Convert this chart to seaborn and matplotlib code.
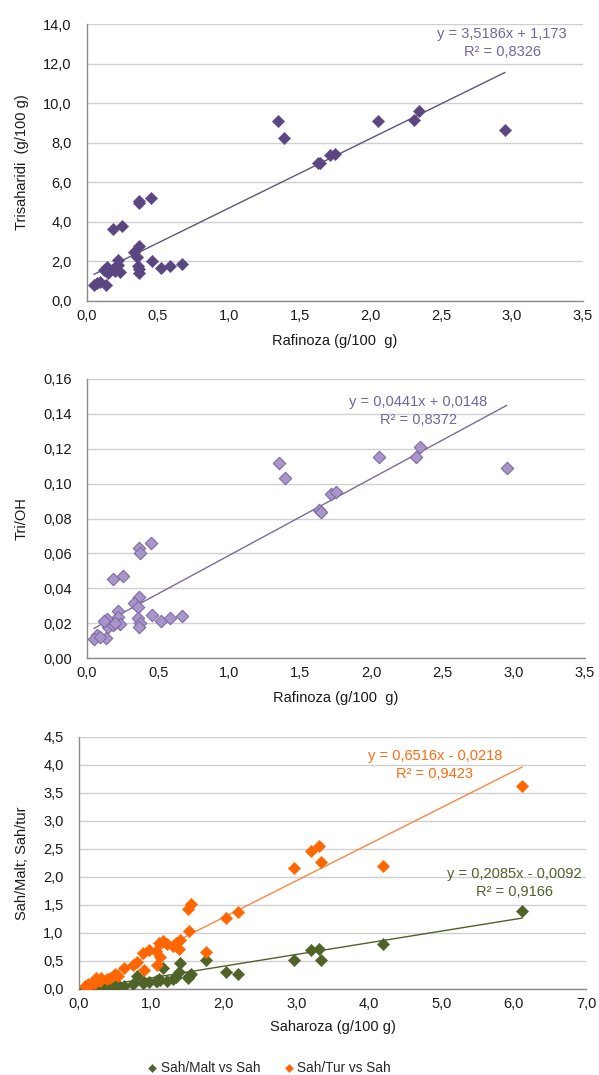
import matplotlib
matplotlib.use("Agg")
import matplotlib.pyplot as plt
import seaborn as sns
import pandas as pd
from matplotlib.ticker import FuncFormatter, MultipleLocator

# Raffinose vs. trisaccharides and Tri/OH ratio
rafinoza = [1.35, 1.39, 2.05, 2.31, 2.34, 2.95, 1.63, 1.645, 1.715, 1.75,
            0.45, 0.365, 0.37, 0.185, 0.25, 0.365, 0.33, 0.355, 0.456, 0.52,
            0.585, 0.668, 0.36, 0.37, 0.365, 0.22, 0.216, 0.233, 0.14, 0.15,
            0.186, 0.068, 0.134, 0.049, 0.092, 0.12, 0.20]
trisaharidi = [9.10, 8.22, 9.10, 9.15, 9.60, 8.65, 6.95, 7.00, 7.37, 7.42,
               5.22, 4.96, 5.05, 3.65, 3.79, 2.79, 2.49, 2.24, 2.02, 1.65,
               1.75, 1.87, 1.75, 1.60, 1.43, 2.07, 1.82, 1.48, 1.70, 1.40,
               1.60, 0.92, 0.81, 0.81, 0.98, 1.55, 1.50]
tri_oh = [0.112, 0.103, 0.115, 0.1155, 0.121, 0.109, 0.085, 0.084, 0.094, 0.095,
          0.066, 0.063, 0.060, 0.0455, 0.047, 0.035, 0.0316, 0.029, 0.0245, 0.021,
          0.023, 0.024, 0.023, 0.0198, 0.0178, 0.027, 0.0236, 0.0194, 0.0226, 0.0178,
          0.0188, 0.013, 0.0115, 0.011, 0.012, 0.021, 0.020]

# Sucrose vs. sucrose/maltose and sucrose/turanose ratios
saharoza = [6.12, 4.20, 3.34, 3.31, 3.21, 2.97, 2.20, 2.03, 1.75, 1.55,
            1.50, 1.52, 1.40, 1.38, 1.30, 1.16, 1.10, 1.07, 1.12, 1.08,
            0.96, 0.89, 0.90, 0.80, 0.75, 0.62, 0.50, 0.54, 0.43, 0.38,
            0.31, 0.29, 0.24, 0.22, 0.15, 0.12, 0.08, 1.22, 1.34]
sah_malt = [1.39, 0.80, 0.52, 0.71, 0.69, 0.52, 0.27, 0.30, 0.52, 0.26,
            0.20, 0.24, 0.46, 0.31, 0.17, 0.37, 0.17, 0.14, 0.16, 0.15,
            0.12, 0.11, 0.12, 0.24, 0.09, 0.06, 0.05, 0.07, 0.05, 0.03,
            0.03, 0.02, 0.02, 0.02, 0.01, 0.01, 0.00, 0.15, 0.22]
sah_tur = [3.62, 2.20, 2.26, 2.56, 2.46, 2.16, 1.37, 1.27, 0.66, 1.51,
           1.43, 1.03, 0.88, 0.71, 0.77, 0.85, 0.83, 0.68, 0.58, 0.42,
           0.70, 0.64, 0.34, 0.49, 0.43, 0.37, 0.26, 0.23, 0.20, 0.17,
           0.20, 0.14, 0.20, 0.11, 0.08, 0.09, 0.05, 0.80, 0.82]

# Linear trend coefficients (slope, intercept) and R²
fit_tri = (3.5186, 1.173, 0.8326)
fit_oh = (0.0441, 0.0148, 0.8372)
fit_malt = (0.2085, -0.0092, 0.9166)
fit_tur = (0.6516, -0.0218, 0.9423)

sns.set_theme(style="white")
plt.rcParams['font.family'] = ['Liberation Sans', 'DejaVu Sans']
plt.rcParams['font.size'] = 10.5

W, H = 599, 1075
fig = plt.figure(figsize=(W / 100, H / 100), dpi=100)


def fmt(dec):
    return FuncFormatter(lambda v, p: f"{v:.{dec}f}".replace(".", ","))


def style_axes(ax, xmax, xstep, ymax, ystep, xdec, ydec):
    ax.set_xlim(0, xmax)
    ax.set_ylim(0, ymax)
    ax.xaxis.set_major_locator(MultipleLocator(xstep))
    ax.yaxis.set_major_locator(MultipleLocator(ystep))
    ax.xaxis.set_major_formatter(fmt(xdec))
    ax.yaxis.set_major_formatter(fmt(ydec))
    ax.grid(axis="y", color="#d0d0d0", linewidth=1.0)
    ax.grid(axis="x", visible=False)
    ax.set_axisbelow(True)
    for s in ["top", "right"]:
        ax.spines[s].set_visible(False)
    for s in ["left", "bottom"]:
        ax.spines[s].set_color("#8c8c8c")
        ax.spines[s].set_linewidth(1.0)
    ax.tick_params(axis="y", length=0, pad=11, labelsize=10.5, labelcolor="#1a1a1a")
    ax.tick_params(axis="x", length=0, pad=6, labelsize=10.5, labelcolor="#1a1a1a")


def trend(ax, xs, fit, color):
    x0, x1 = min(xs), max(xs)
    d = pd.DataFrame({"x": [x0, x1], "y": [fit[0] * x0 + fit[1], fit[0] * x1 + fit[1]]})
    sns.lineplot(data=d, x="x", y="y", ax=ax, color=color, linewidth=1.0)


def eq_text(ax, fit, xy, color, dec_int):
    sign = "+" if fit[1] >= 0 else "-"
    s = f"y = {fit[0]:.4f}x {sign} {abs(fit[1]):.{dec_int}f}".replace(".", ",")
    r = f"R² = {fit[2]:.4f}".replace(".", ",")
    fig.text(xy[0] / W, 1 - xy[1] / H, s, ha="center", va="center", color=color, fontsize=10.5)
    fig.text(xy[0] / W, 1 - (xy[1] + 18.5) / H, r, ha="center", va="center", color=color, fontsize=10.5)


MS = 40

# Panel 1
ax1 = fig.add_axes([87 / W, 1 - 301 / H, 496 / W, 277 / H])
d1 = pd.DataFrame({"x": rafinoza, "y": trisaharidi})
sns.scatterplot(data=d1, x="x", y="y", ax=ax1, marker="D", s=MS, color="#5a4680",
                edgecolor="#5a4680", linewidth=0.3, zorder=3)
trend(ax1, rafinoza, fit_tri, "#5f5478")
style_axes(ax1, 3.5, 0.5, 14, 2, 1, 1)
ax1.set_xlabel("Rafinoza (g/100  g)", fontsize=10.5, labelpad=8, color="#1a1a1a")
ax1.set_ylabel("Trisaharidi  (g/100 g)", fontsize=10.5, labelpad=10, color="#1a1a1a")
eq_text(ax1, fit_tri, (502, 34), "#7264a0", 3)

# Panel 2
ax2 = fig.add_axes([87 / W, 1 - 658 / H, 498 / W, 279 / H])
d2 = pd.DataFrame({"x": rafinoza, "y": tri_oh})
sns.scatterplot(data=d2, x="x", y="y", ax=ax2, marker="D", s=MS, color="#a896cb",
                edgecolor="#7f6ba6", linewidth=0.8, zorder=3)
trend(ax2, rafinoza, fit_oh, "#7a6b98")
style_axes(ax2, 3.5, 0.5, 0.16, 0.02, 1, 2)
ax2.set_xlabel("Rafinoza (g/100  g)", fontsize=10.5, labelpad=8, color="#1a1a1a")
ax2.set_ylabel("Tri/OH", fontsize=10.5, labelpad=10, color="#1a1a1a")
eq_text(ax2, fit_oh, (418, 402), "#7264a0", 4)

# Panel 3
ax3 = fig.add_axes([79 / W, 1 - 989 / H, 507 / W, 252 / H])
d3 = pd.DataFrame({"x": saharoza, "malt": sah_malt, "tur": sah_tur})
sns.scatterplot(data=d3, x="x", y="malt", ax=ax3, marker="D", s=MS, color="#4f6228",
                edgecolor="#4f6228", linewidth=0.3, zorder=3, label="Sah/Malt vs Sah")
sns.scatterplot(data=d3, x="x", y="tur", ax=ax3, marker="D", s=MS, color="#ff6600",
                edgecolor="#ff6600", linewidth=0.3, zorder=4, label="Sah/Tur vs Sah")
trend(ax3, saharoza, fit_tur, "#ff8540")
trend(ax3, saharoza, fit_malt, "#4f6228")
style_axes(ax3, 7.0, 1.0, 4.5, 0.5, 1, 1)
ax3.set_xlabel("Saharoza (g/100 g)", fontsize=10.5, labelpad=6, color="#1a1a1a")
ax3.set_ylabel("Sah/Malt; Sah/tur", fontsize=10.5, labelpad=10, color="#1a1a1a")
eq_text(ax3, fit_tur, (435, 756), "#ff6a10", 4)
eq_text(ax3, fit_malt, (514, 874), "#4f6228", 4)

handles, labels = ax3.get_legend_handles_labels()
ax3.get_legend().remove()
fig.legend(handles[:2], labels[:2], loc="center", bbox_to_anchor=(268 / W, 1 - 1068 / H),
           ncol=2, frameon=False, fontsize=9.8, handletextpad=0.1, columnspacing=1.6,
           markerscale=0.65, handlelength=1.0)

fig.savefig("out.png", dpi=100)
